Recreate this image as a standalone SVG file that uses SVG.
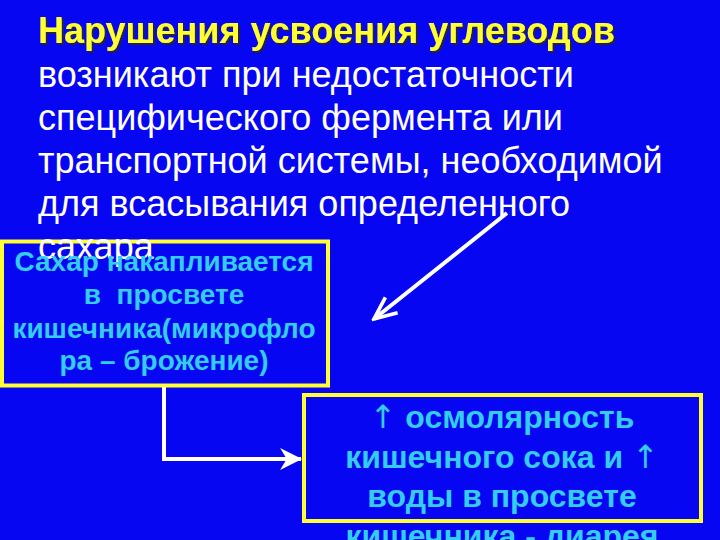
<svg xmlns="http://www.w3.org/2000/svg" width="720" height="540" viewBox="0 0 720 540">
  <defs>
    <style>
      .bg { fill: #0606F2; }
      .box { fill: #0606F2; stroke: #FFFF33; stroke-width: 4; }
      .title { font-family: "Liberation Sans", Arial, sans-serif; font-weight: bold; font-size: 36px; fill: #FFFF33; }
      .body { font-family: "Liberation Sans", Arial, sans-serif; font-size: 36px; fill: #FFFFFF; }
      .lbl1 { font-family: "Liberation Sans", Arial, sans-serif; font-weight: bold; font-size: 28px; fill: #33CCF5; text-anchor: middle; white-space: pre; }
      .lbl2 { font-family: "Liberation Sans", Arial, sans-serif; font-weight: bold; font-size: 32px; fill: #33CCF5; text-anchor: middle; }
      .arr { font-family: "DejaVu Sans", sans-serif; font-weight: normal; }
      .conn { fill: none; stroke: #FFFFFF; stroke-width: 4; }
    </style>
    <filter id="shadow" x="-5%" y="-20%" width="110%" height="150%">
      <feDropShadow dx="2" dy="2" stdDeviation="0" flood-color="#22224A" flood-opacity="1"/>
    </filter>
    <marker id="open" viewBox="0 0 20 20" refX="18" refY="10" markerWidth="7" markerHeight="7" orient="auto" markerUnits="strokeWidth">
      <path d="M2,3 L18,10 L2,17" fill="none" stroke="#FFFFFF" stroke-width="2.6"/>
    </marker>
    <marker id="stealth" viewBox="0 0 20 20" refX="19" refY="10" markerWidth="5.5" markerHeight="5.5" orient="auto" markerUnits="strokeWidth">
      <path d="M0,0 L20,10 L0,20 L6,10 Z" fill="#FFFFFF"/>
    </marker>
  </defs>
  <rect class="bg" x="0" y="0" width="720" height="540"/>

  <g id="box-left">
    <rect class="box" x="2" y="241.5" width="326" height="144"/>
  </g>
  <g id="box-right">
    <rect class="box" x="304" y="395" width="397" height="126"/>
  </g>

  <g id="intro">
    <text class="title" x="38" y="43" filter="url(#shadow)">Нарушения усвоения углеводов</text>
    <text class="body" x="38" y="87">возникают при недостаточности</text>
    <text class="body" x="38" y="130">специфического фермента или</text>
    <text class="body" x="38" y="173">транспортной системы, необходимой</text>
    <text class="body" x="38" y="216">для всасывания определенного</text>
    <text class="body" x="38" y="259">сахара</text>
  </g>

  <g id="box-left-text">
    <text class="lbl1" x="164" y="271">Сахар накапливается</text>
    <text class="lbl1" x="164" y="304" xml:space="preserve">в  просвете</text>
    <text class="lbl1" x="164" y="338">кишечника(микрофло</text>
    <text class="lbl1" x="164" y="370">ра – брожение)</text>
  </g>

  <g id="box-right-text">
    <text class="lbl2" x="502" y="428"><tspan class="arr">↑</tspan> осмолярность</text>
    <text class="lbl2" x="502" y="468">кишечного сока и <tspan class="arr">↑</tspan></text>
    <text class="lbl2" x="502" y="507">воды в просвете</text>
    <text class="lbl2" x="502" y="547">кишечника - диарея</text>
  </g>

  <g id="connectors">
    <path class="conn" d="M507,213 L374,319" marker-end="url(#open)"/>
    <path class="conn" d="M164,387 L164,459 L301,459" marker-end="url(#stealth)"/>
  </g>
</svg>
